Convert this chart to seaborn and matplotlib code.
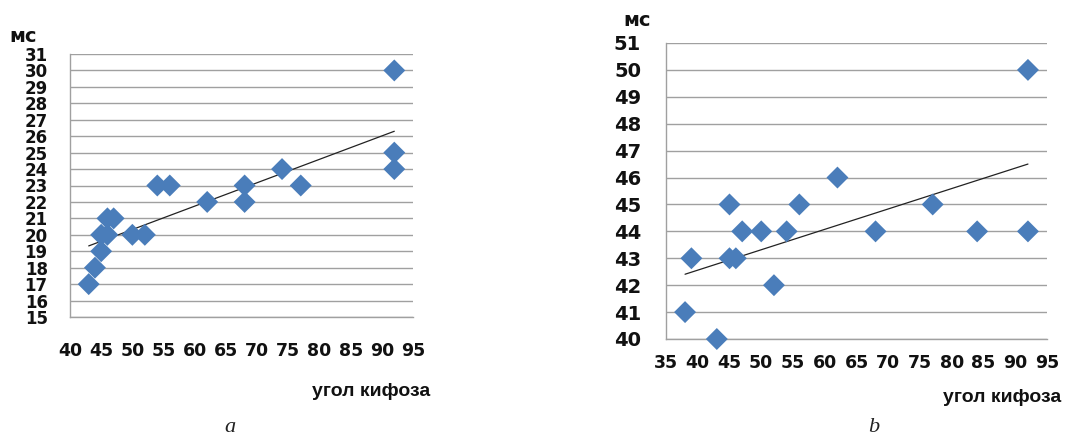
import numpy as np
import pandas as pd
import matplotlib
matplotlib.use("Agg")
import matplotlib.pyplot as plt
import seaborn as sns

# Panel a: kyphosis angle vs. latency (ms)
angle_a = [43, 44, 45, 45, 46, 46, 47, 50, 52, 54, 56, 62, 68, 68, 74, 77, 92, 92, 92]
ms_a = [17, 18, 19, 20, 20, 21, 21, 20, 20, 23, 23, 22, 23, 22, 24, 23, 30, 25, 24]

# Panel b
angle_b = [38, 39, 43, 45, 45, 46, 47, 50, 52, 54, 56, 62, 68, 77, 84, 92, 92]
ms_b = [41, 43, 40, 45, 43, 43, 44, 44, 42, 44, 45, 46, 44, 45, 44, 50, 44]

xticks_a = [40, 45, 50, 55, 60, 65, 70, 75, 80, 85, 90, 95]
yticks_a = list(range(15, 32))
xticks_b = [35, 40, 45, 50, 55, 60, 65, 70, 75, 80, 85, 90, 95]
yticks_b = list(range(40, 52))

x_label = "угол кифоза"
y_label = "мс"
panel_tags = ["a", "b"]

sns.set_style("white")
plt.rcParams["font.family"] = ["DejaVu Sans"]

W, H = 1069, 437
fig = plt.figure(figsize=(W / 100, H / 100), dpi=100)

MARKER_COLOR = "#4a7dba"
GRID_COLOR = "#a0a0a0"


def px_box(x0, y0, x1, y1):
    return [x0 / W, 1 - y1 / H, (x1 - x0) / W, (y1 - y0) / H]


def draw_panel(ax, xs, ys, xticks, yticks, xpad, ypad, ysize):
    df = pd.DataFrame({"x": xs, "y": ys})
    ax.set_axisbelow(True)
    ax.yaxis.grid(True, color=GRID_COLOR, linewidth=1.0)
    ax.xaxis.grid(False)
    sns.regplot(data=df, x="x", y="y", ax=ax, scatter=False, ci=None,
                truncate=True, line_kws=dict(color="#222222", linewidth=0.9))
    sns.scatterplot(data=df, x="x", y="y", ax=ax, marker="D", s=125,
                    color=MARKER_COLOR, edgecolor="none", linewidth=0, zorder=3)
    ax.set_xlim(xticks[0], xticks[-1])
    ax.set_ylim(yticks[0], yticks[-1])
    ax.set_xticks(xticks)
    ax.set_yticks(yticks)
    ax.set_xlabel("")
    ax.set_ylabel("")
    for side in ("top", "right"):
        ax.spines[side].set_visible(False)
    for side in ("left", "bottom"):
        ax.spines[side].set_color(GRID_COLOR)
        ax.spines[side].set_linewidth(1.0)
    ax.tick_params(axis="both", direction="out", length=7, width=1.0,
                   color=GRID_COLOR)
    ax.tick_params(axis="x", pad=xpad, labelsize=12.5)
    ax.tick_params(axis="y", pad=ypad, labelsize=ysize)
    for lab in ax.get_xticklabels() + ax.get_yticklabels():
        lab.set_fontweight("bold")
        lab.set_color("#111111")
    for coll in ax.collections:
        coll.set_clip_on(False)


ax_a = fig.add_axes(px_box(70, 54, 413, 317))
draw_panel(ax_a, angle_a, ms_a, xticks_a, yticks_a, xpad=11, ypad=9, ysize=12)

ax_b = fig.add_axes(px_box(666, 43, 1047, 339))
draw_panel(ax_b, angle_b, ms_b, xticks_b, yticks_b, xpad=4, ypad=11, ysize=14)

# Axis titles placed like a spreadsheet chart
txt = dict(fontweight="bold", color="#111111")
fig.text(9 / W, 1 - 36 / H, y_label, ha="left", va="center", fontsize=14, **txt)
fig.text(623 / W, 1 - 20 / H, y_label, ha="left", va="center", fontsize=14, **txt)
fig.text(312 / W, 1 - 392 / H, x_label, ha="left", va="center",
         family=["Liberation Sans"], fontsize=14, **txt)
fig.text(943 / W, 1 - 397 / H, x_label, ha="left", va="center",
         family=["Liberation Sans"], fontsize=14, **txt)

# Panel tags
tag = dict(fontsize=16, style="italic", family=["Liberation Serif"], color="#222222")
fig.text(230 / W, 1 - 427 / H, panel_tags[0], ha="center", va="center", **tag)
fig.text(874 / W, 1 - 427 / H, panel_tags[1], ha="center", va="center", **tag)

fig.savefig("out.png", dpi=100, facecolor="white")
